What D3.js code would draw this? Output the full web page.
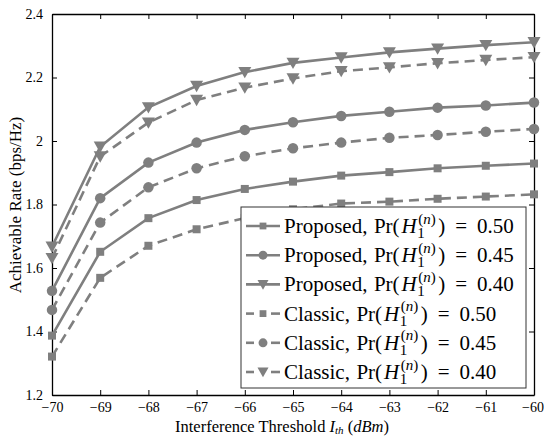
<!DOCTYPE html>
<html>
<head>
<meta charset="utf-8">
<script src="https://cdn.jsdelivr.net/npm/d3@7"></script>
<style>
  body { margin: 0; background: #fff; }
  svg text { font-family: "Liberation Serif", "Times New Roman", serif; fill: #000; }
</style>
</head>
<body>
<div id="chart"></div>
<script>
// interference threshold (dBm)
var thresholds = [-70, -69, -68, -67, -66, -65, -64, -63, -62, -61, -60];

// achievable rate (bps/Hz)
var proposed050 = [1.387, 1.651, 1.757, 1.814, 1.849, 1.872, 1.891, 1.902, 1.914, 1.922, 1.929];
var proposed045 = [1.528, 1.820, 1.932, 1.995, 2.035, 2.059, 2.079, 2.092, 2.105, 2.112, 2.121];
var proposed040 = [1.667, 1.982, 2.106, 2.173, 2.217, 2.246, 2.263, 2.279, 2.291, 2.302, 2.311];
var classic050 = [1.321, 1.569, 1.670, 1.722, 1.757, 1.785, 1.803, 1.809, 1.818, 1.825, 1.832];
var classic045 = [1.468, 1.743, 1.854, 1.914, 1.952, 1.977, 1.995, 2.010, 2.019, 2.029, 2.038];
var classic040 = [1.631, 1.951, 2.058, 2.129, 2.168, 2.197, 2.220, 2.232, 2.245, 2.255, 2.264];

var yTicks = [1.2, 1.4, 1.6, 1.8, 2, 2.2, 2.4];
var xTicks = thresholds;

var series = [
  {scheme: "Proposed", p: "0.50", values: proposed050, marker: "square", dashed: false},
  {scheme: "Proposed", p: "0.45", values: proposed045, marker: "circle", dashed: false},
  {scheme: "Proposed", p: "0.40", values: proposed040, marker: "triangle", dashed: false},
  {scheme: "Classic", p: "0.50", values: classic050, marker: "square", dashed: true},
  {scheme: "Classic", p: "0.45", values: classic045, marker: "circle", dashed: true},
  {scheme: "Classic", p: "0.40", values: classic040, marker: "triangle", dashed: true}
];

var W = 544, H = 436;
var margin = {top: 14, right: 10, bottom: 41, left: 52};
var width = W - margin.left - margin.right,
    height = H - margin.top - margin.bottom;
var grey = "#7f7f7f";
var serif = "'Liberation Serif', 'Times New Roman', serif";

var svg = d3.select("#chart").append("svg")
    .attr("width", W).attr("height", H)
    .attr("font-family", serif);
var g = svg.append("g")
    .attr("transform", "translate(" + margin.left + "," + margin.top + ")");

var x = d3.scaleLinear().domain([-70, -60]).range([0, width]);
var y = d3.scaleLinear().domain([1.2, 2.4]).range([height, 0]);

function fmtY(d) { return d3.format(".1f")(d).replace(/\.0$/, ""); }

// axes with inward ticks, mirrored on top / right
var xAxis = g.append("g").attr("transform", "translate(0," + height + ")")
    .call(d3.axisBottom(x).tickValues(xTicks).tickSizeInner(-5).tickSizeOuter(0).tickPadding(7).tickFormat(d3.format("d")));
var xTop = g.append("g")
    .call(d3.axisTop(x).tickValues(xTicks).tickSizeInner(-5).tickSizeOuter(0).tickFormat(""));
var yAxis = g.append("g")
    .call(d3.axisLeft(y).tickValues(yTicks).tickSizeInner(-5).tickSizeOuter(0).tickPadding(9).tickFormat(fmtY));
var yRight = g.append("g").attr("transform", "translate(" + width + ",0)")
    .call(d3.axisRight(y).tickValues(yTicks).tickSizeInner(-5).tickSizeOuter(0).tickFormat(""));
[xAxis, xTop, yAxis, yRight].forEach(function(a) {
  a.attr("font-family", serif);
  a.select(".domain").attr("stroke", "#000").attr("stroke-width", 1.3);
  a.selectAll(".tick line").attr("stroke", "#000").attr("stroke-width", 1);
  a.selectAll("text").attr("font-size", 14);
});
// keep the last label inside the window
xAxis.selectAll(".tick text").filter(function(d) { return d === -60; }).attr("dx", -1.5);

function markerPath(type, size) {
  if (type === "square") return d3.symbol(d3.symbolSquare, size * size)();
  if (type === "circle") return d3.symbol(d3.symbolCircle, Math.PI * size * size / 4)();
  var s = size / 2;
  return "M" + (-s) + "," + (-s * 0.8) + "L" + s + "," + (-s * 0.8) + "L0," + (s * 0.95) + "Z";
}
var markerSize = {square: 8, circle: 10.5, triangle: 13};

var line = d3.line().x(function(d, i) { return x(thresholds[i]); }).y(function(d) { return y(d); });

series.forEach(function(s) {
  g.append("path")
    .attr("d", line(s.values))
    .attr("fill", "none")
    .attr("stroke", grey)
    .attr("stroke-width", 2.6)
    .attr("stroke-dasharray", s.dashed ? "10,6" : null);
  g.selectAll(null).data(s.values).enter().append("path")
    .attr("d", markerPath(s.marker, markerSize[s.marker]))
    .attr("transform", function(d, i) { return "translate(" + x(thresholds[i]) + "," + y(d) + ")"; })
    .attr("fill", grey);
});

// legend
var lg = svg.append("g");
var lx = 241, ly = 207, lw = 285, lh = 181;
lg.append("rect").attr("x", lx).attr("y", ly).attr("width", lw).attr("height", lh)
  .attr("fill", "#fff").attr("stroke", "#333").attr("stroke-width", 1);

function piece(parent, txt, px, py, size, italic) {
  var t = parent.append("text").attr("x", px).attr("y", py)
    .attr("font-size", size).text(txt);
  if (italic) t.attr("font-style", "italic");
  return t.node().getComputedTextLength();
}

series.forEach(function(s, i) {
  var cy = 226 + i * 29.2;
  var row = lg.append("g");
  if (s.dashed) {
    row.append("line").attr("x1", 246).attr("x2", 254).attr("y1", cy).attr("y2", cy)
      .attr("stroke", grey).attr("stroke-width", 2.6);
    row.append("line").attr("x1", 271).attr("x2", 280).attr("y1", cy).attr("y2", cy)
      .attr("stroke", grey).attr("stroke-width", 2.6);
  } else {
    row.append("line").attr("x1", 246).attr("x2", 280).attr("y1", cy).attr("y2", cy)
      .attr("stroke", grey).attr("stroke-width", 2.6);
  }
  row.append("path").attr("d", markerPath(s.marker, markerSize[s.marker] * 0.85))
    .attr("transform", "translate(263," + cy + ")").attr("fill", grey);

  var bx = 284, by = cy + 7, fs = 21;
  bx += piece(row, s.scheme + ",", bx, by, fs) + 6.5;
  bx += piece(row, "Pr(", bx, by, fs) + 2;
  bx += piece(row, "H", bx, by, fs, true) + 0.5;
  var subW = piece(row, "1", bx, by + 5, 15);
  var supW = 0, sx = bx + 1;
  supW += piece(row, "(", sx, by - 9.5, 15);
  supW += piece(row, "n", sx + supW, by - 9.5, 15, true);
  supW += piece(row, ")", sx + supW, by - 9.5, 15) + 1;
  bx += Math.max(subW, supW + 1) + 1.5;
  bx += piece(row, ")", bx, by, fs) + 10;
  bx += piece(row, "=", bx, by, fs) + 10;
  piece(row, s.p, bx, by, fs);
});

// axis titles
var xl = svg.append("text").attr("y", 432).attr("font-size", 16.5);
xl.append("tspan").text("Interference Threshold ");
xl.append("tspan").attr("font-style", "italic").text("I");
xl.append("tspan").attr("font-style", "italic").attr("font-size", 11).attr("dy", 1.5).text("th");
xl.append("tspan").attr("dy", -1.5).text(" (");
xl.append("tspan").attr("font-style", "italic").text("dBm");
xl.append("tspan").text(")");
var xlw = xl.node().getComputedTextLength();
xl.attr("x", 282 - xlw / 2);

svg.append("text")
  .attr("transform", "translate(21,205) rotate(-90)")
  .attr("text-anchor", "middle")
  .attr("font-size", 17)
  .text("Achievable Rate (bps/Hz)");
</script>
</body>
</html>
